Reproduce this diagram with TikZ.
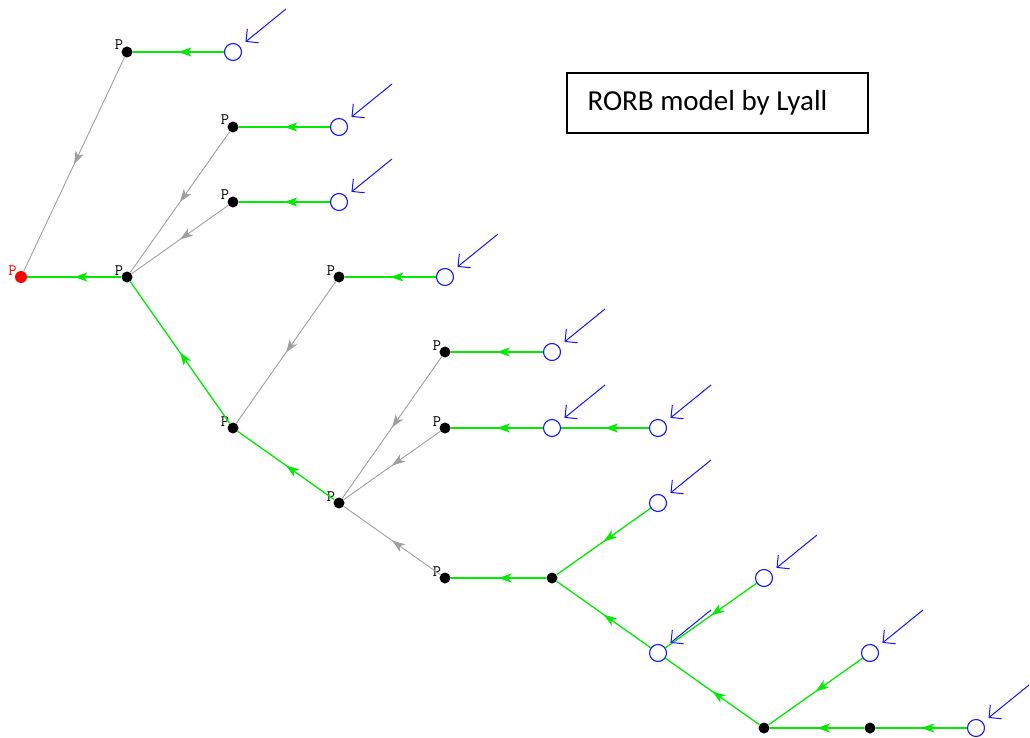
\documentclass[tikz,border=0pt]{standalone}
\usepackage{fontspec}
\newfontfamily\boxfont{Carlito}
\usetikzlibrary{arrows.meta,decorations.markings,calc}
\definecolor{flowgreen}{RGB}{0,235,0}
\definecolor{flowgray}{RGB}{160,160,160}
\definecolor{flowblue}{RGB}{20,20,255}
\tikzset{
  dotnode/.style={circle,fill=black,minimum size=11pt,inner sep=0pt},
  outnode/.style={circle,fill=red,minimum size=12pt,inner sep=0pt},
  storage/.style={circle,draw=flowblue,line width=1.1pt,minimum size=17pt,inner sep=0pt,fill=white},
  plabel/.style={anchor=base east,inner sep=0pt,yshift=2pt,xshift=2pt,font=\fontsize{16}{17}\selectfont\ttfamily},
  midarrow/.style={postaction={decorate},decoration={markings,mark=at position 0.5 with {\arrow{Stealth[length=13pt,width=9pt,inset=3.5pt]}}}},
  greenedge/.style={draw=flowgreen,line width=1.3pt,midarrow,color=flowgreen},
  grayedge/.style={draw=flowgray,line width=0.9pt,midarrow,color=flowgray},
  inflow/.style={draw=flowblue,line width=1pt,-{Straight Barb[length=9pt,width=18pt]},shorten >=7pt},
  titlebox/.style={draw=black,line width=1.3pt}
}
\begin{document}
\begin{tikzpicture}[x=1pt,y=-1pt]
\useasboundingbox (0,0) rectangle (1030,738);
% junction and outlet nodes
\node[outnode,label={[plabel,text=red]180:P}] (out) at (21,277) {};
\node[dotnode,label={[plabel]180:P}] (a1) at (127,52) {};
\node[dotnode,label={[plabel]180:P}] (a2) at (233,127) {};
\node[dotnode,label={[plabel]180:P}] (a3) at (233,202) {};
\node[dotnode,label={[plabel]180:P}] (b1) at (127,277) {};
\node[dotnode,label={[plabel]180:P}] (a4) at (339,277) {};
\node[dotnode,label={[plabel]180:P}] (b2) at (233,428) {};
\node[dotnode,label={[plabel]180:P}] (a5) at (445,352) {};
\node[dotnode,label={[plabel]180:P}] (a6) at (445,428) {};
\node[dotnode,label={[plabel]180:P}] (b3) at (339,503) {};
\node[dotnode,label={[plabel]180:P}] (a7) at (445,578) {};
\node[dotnode] (d1) at (552,578) {};
\node[dotnode] (d2) at (764,728) {};
\node[dotnode] (d3) at (870,728) {};
% storages
\node[storage] (c1) at (233,52) {};
\node[storage] (c2) at (339,127) {};
\node[storage] (c3) at (339,202) {};
\node[storage] (c4) at (445,277) {};
\node[storage] (c5) at (552,352) {};
\node[storage] (c6) at (552,428) {};
\node[storage] (c7) at (658,428) {};
\node[storage] (c8) at (658,503) {};
\node[storage] (c9) at (658,653) {};
\node[storage] (c10) at (764,578) {};
\node[storage] (c11) at (870,653) {};
\node[storage] (c12) at (976,728) {};
% gray reaches
\draw[grayedge] (a1) -- (out);
\draw[grayedge] (a2) -- (b1);
\draw[grayedge] (a3) -- (b1);
\draw[grayedge] (a4) -- (b2);
\draw[grayedge] (a5) -- (b3);
\draw[grayedge] (a6) -- (b3);
\draw[grayedge] (a7) -- (b3);
% green reaches
\draw[greenedge] (c1) -- (a1);
\draw[greenedge] (c2) -- (a2);
\draw[greenedge] (c3) -- (a3);
\draw[greenedge] (b1) -- (out);
\draw[greenedge] (c4) -- (a4);
\draw[greenedge] (b2) -- (b1);
\draw[greenedge] (c5) -- (a5);
\draw[greenedge] (c7) -- (c6);
\draw[greenedge] (c6) -- (a6);
\draw[greenedge] (b3) -- (b2);
\draw[greenedge] (d1) -- (a7);
\draw[greenedge] (c8) -- (d1);
\draw[greenedge] (c9) -- (d1);
\draw[greenedge] (c10) -- (c9);
\draw[greenedge] (d2) -- (c9);
\draw[greenedge] (c11) -- (d2);
\draw[greenedge] (d3) -- (d2);
\draw[greenedge] (c12) -- (d3);
% inflow arrows
\foreach \c in {c1,c2,c3,c4,c5,c6,c7,c8,c9,c10,c11,c12}{
  \coordinate (s\c) at ($(\c)+(53,-43)$);
  \draw[inflow] (s\c) -- (\c);
}
% title
\node[titlebox,minimum width=301pt,minimum height=60pt,inner sep=0pt] (title) at (717.5,103) {};
\node[anchor=west,inner sep=0pt,font=\boxfont\fontsize{29}{33}\selectfont] (titletext) at ($(title.west)+(21,0)$) {RORB model by Lyall};
\end{tikzpicture}
\end{document}
